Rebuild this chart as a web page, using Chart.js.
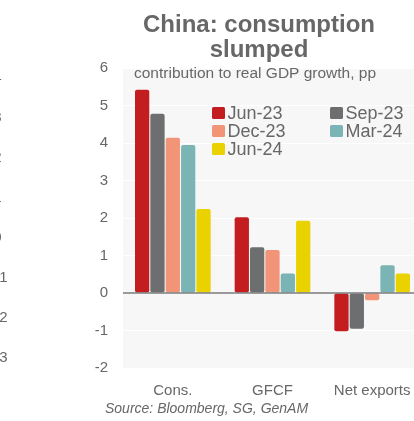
<!DOCTYPE html>
<html>
<head>
<meta charset="utf-8">
<script src="https://cdn.jsdelivr.net/npm/chart.js@4.4.0/dist/chart.umd.min.js"></script>
<style>
html, body { margin: 0; padding: 0; background: #fff; overflow: hidden; }
#wrap { position: relative; width: 423px; height: 421px; }
</style>
</head>
<body>
<div id="wrap"><canvas id="chart" width="423" height="421"></canvas></div>
<script>
// data
const categories = ['Cons.', 'GFCF', 'Net exports'];
const seriesNames = ['Jun-23', 'Sep-23', 'Dec-23', 'Mar-24', 'Jun-24'];
const jun23 = [5.42, 2.02, -1.02];
const sep23 = [4.78, 1.22, -0.95];
const dec23 = [4.14, 1.15, -0.19];
const mar24 = [3.95, 0.52, 0.74];
const jun24 = [2.24, 1.93, 0.52];
const yMin = -2, yMax = 6, yStep = 1;

// cut-off tick labels of the neighbouring chart on the left edge
const strayLabels = ['4', '3', '2', '1', '0', '-1', '-2', '-3'];

const colors = ['#c31d1f', '#6d6e70', '#f29478', '#7bb4b4', '#e9d200'];
const FONT = '"Liberation Sans", Arial, sans-serif';
const GREY = '#676767';

const allSeries = [jun23, sep23, dec23, mar24, jun24];

const backdrop = {
    id: 'backdrop',
    beforeDraw(chart) {
        const a = chart.chartArea;
        const c = chart.ctx;
        c.save();
        c.fillStyle = '#f7f7f7';
        c.fillRect(a.left, a.top, a.right - a.left, a.bottom - a.top);
        c.restore();
    },
    afterDatasetsDraw(chart) {
        // zero line sits on top of the bars
        const a = chart.chartArea;
        const y0 = chart.scales.y.getPixelForValue(0);
        const c = chart.ctx;
        c.save();
        c.strokeStyle = '#7a7a7a';
        c.lineWidth = 1.5;
        c.beginPath();
        c.moveTo(a.left, y0);
        c.lineTo(a.right, y0);
        c.stroke();
        c.restore();
    },
    afterDraw(chart) {
        const a = chart.chartArea;
        const c = chart.ctx;
        c.save();
        c.fillStyle = GREY;

        // title
        c.font = 'bold 24px ' + FONT;
        c.textAlign = 'center';
        c.textBaseline = 'alphabetic';
        c.fillText('China: consumption', 259, 32);
        c.fillText('slumped', 259, 57);

        // subtitle inside plot
        c.font = '15.5px ' + FONT;
        c.textAlign = 'left';
        c.fillText('contribution to real GDP growth, pp', a.left + 11, 78);

        // legend, two columns
        c.font = '18px ' + FONT;
        chart.data.datasets.forEach((ds, i) => {
            const col = i % 2, row = Math.floor(i / 2);
            const x = a.left + 89 + col * 118;
            const base = 119 + row * 18;
            c.fillStyle = ds.backgroundColor;
            c.beginPath();
            c.roundRect(x, base - 12, 13, 12, 1.5);
            c.fill();
            c.fillStyle = GREY;
            c.fillText(ds.label, x + 15.5, base);
        });

        // source
        c.font = 'italic 14px ' + FONT;
        c.fillText('Source: Bloomberg, SG, GenAM', 105, 413);

        // stray labels at left edge
        c.font = '15px ' + FONT;
        c.textAlign = 'right';
        c.textBaseline = 'middle';
        strayLabels.forEach((t, i) => {
            const neg = t.startsWith('-');
            c.fillText(t, neg ? 7.5 : 1.5, 78 + i * 40);
        });
        c.restore();
    }
};

const ctx = document.getElementById('chart').getContext('2d');
const chart = new Chart(ctx, {
    type: 'bar',
    data: {
        labels: categories,
        datasets: seriesNames.map((name, i) => ({
            label: name,
            data: allSeries[i],
            backgroundColor: colors[i],
            borderRadius: 2,
            borderSkipped: false,
            barPercentage: 0.93,
            categoryPercentage: 0.77
        }))
    },
    options: {
        responsive: false,
        animation: false,
        devicePixelRatio: 1,
        layout: { padding: { top: 68, left: 0, right: 1, bottom: 0 } },
        plugins: {
            legend: { display: false },
            title: { display: false },
            tooltip: { enabled: false }
        },
        scales: {
            x: {
                grid: { display: false },
                border: { display: false },
                ticks: {
                    color: GREY,
                    font: { family: FONT, size: 15 },
                    padding: 6,
                    maxRotation: 0
                },
                afterFit(s) { s.height = 53; }
            },
            y: {
                min: yMin,
                max: yMax,
                ticks: {
                    stepSize: yStep,
                    color: GREY,
                    font: { family: FONT, size: 15 },
                    padding: 15
                },
                grid: { color: '#ffffff', lineWidth: 1, drawTicks: false },
                border: { display: false },
                afterFit(s) { s.width = 123; }
            }
        }
    },
    plugins: [backdrop]
});
</script>
</body>
</html>
